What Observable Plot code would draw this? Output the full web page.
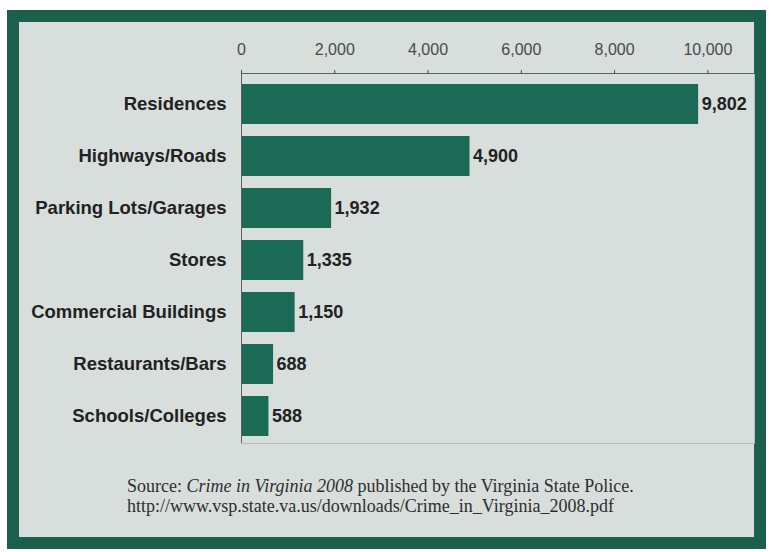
<!DOCTYPE html>
<html>
<head>
<meta charset="utf-8">
<script src="https://cdn.jsdelivr.net/npm/d3@7"></script>
<script src="https://cdn.jsdelivr.net/npm/@observablehq/plot@0.6"></script>
<style>
  html, body { margin: 0; padding: 0; background: #ffffff; }
  #frame {
    position: absolute; left: 7px; top: 10px; width: 735px; height: 515px;
    border: 12px solid #1b5f4c; background: #d7dedb;
  }
  #chart { position: absolute; left: 0; top: 0; }
  #caption {
    position: absolute; left: 127px; top: 476px;
    font-family: "Liberation Serif", "Times New Roman", serif;
    font-size: 18px; line-height: 20px; color: #2e2e2e;
  }
</style>
</head>
<body>
<div id="frame"></div>
<div id="chart"></div>
<div id="caption">Source: <i>Crime in Virginia 2008</i> published by the Virginia State Police.<br>http://www.vsp.state.va.us/downloads/Crime_in_Virginia_2008.pdf</div>
<script>
const categories = ["Residences", "Highways/Roads", "Parking Lots/Garages", "Stores", "Commercial Buildings", "Restaurants/Bars", "Schools/Colleges"];
const values = [9802, 4900, 1932, 1335, 1150, 688, 588];
const xTicks = [0, 2000, 4000, 6000, 8000, 10000];

const data = categories.map((c, i) => ({category: c, value: values[i]}));
const fmt = d3.format(",");

const chart = Plot.plot({
  width: 772,
  height: 455,
  marginLeft: 241,
  marginRight: 18,
  marginTop: 73,
  marginBottom: 12,
  style: {background: "transparent", fontFamily: "Liberation Sans, Arial, sans-serif"},
  x: {domain: [0, 11000]},
  y: {domain: categories, paddingInner: 0.238, paddingOuter: 0.14, align: 0.6},
  marks: [
    Plot.frame({stroke: "#b4bcb9"}),
    Plot.barX(data, {x: "value", y: "category", fill: "#1b6a55"}),
    Plot.frame({anchor: "top", stroke: "#5c6260"}),
    Plot.ruleX([0], {stroke: "#5c6260"}),
    Plot.axisX({anchor: "top", ticks: xTicks, tickFormat: fmt, tickSize: 4, tickPadding: 15,
      fontSize: 16, color: "#4a4a4a", label: null}),
    Plot.axisY({anchor: "left", tickSize: 0, tickPadding: 15, fontSize: 18.5,
      fontWeight: "bold", color: "#222", label: null}),
    Plot.text(data, {x: "value", y: "category", text: d => fmt(d.value), textAnchor: "start",
      dx: 3, fontSize: 18, fontWeight: "bold", fill: "#222"})
  ]
});
document.getElementById("chart").appendChild(chart);
</script>
</body>
</html>
